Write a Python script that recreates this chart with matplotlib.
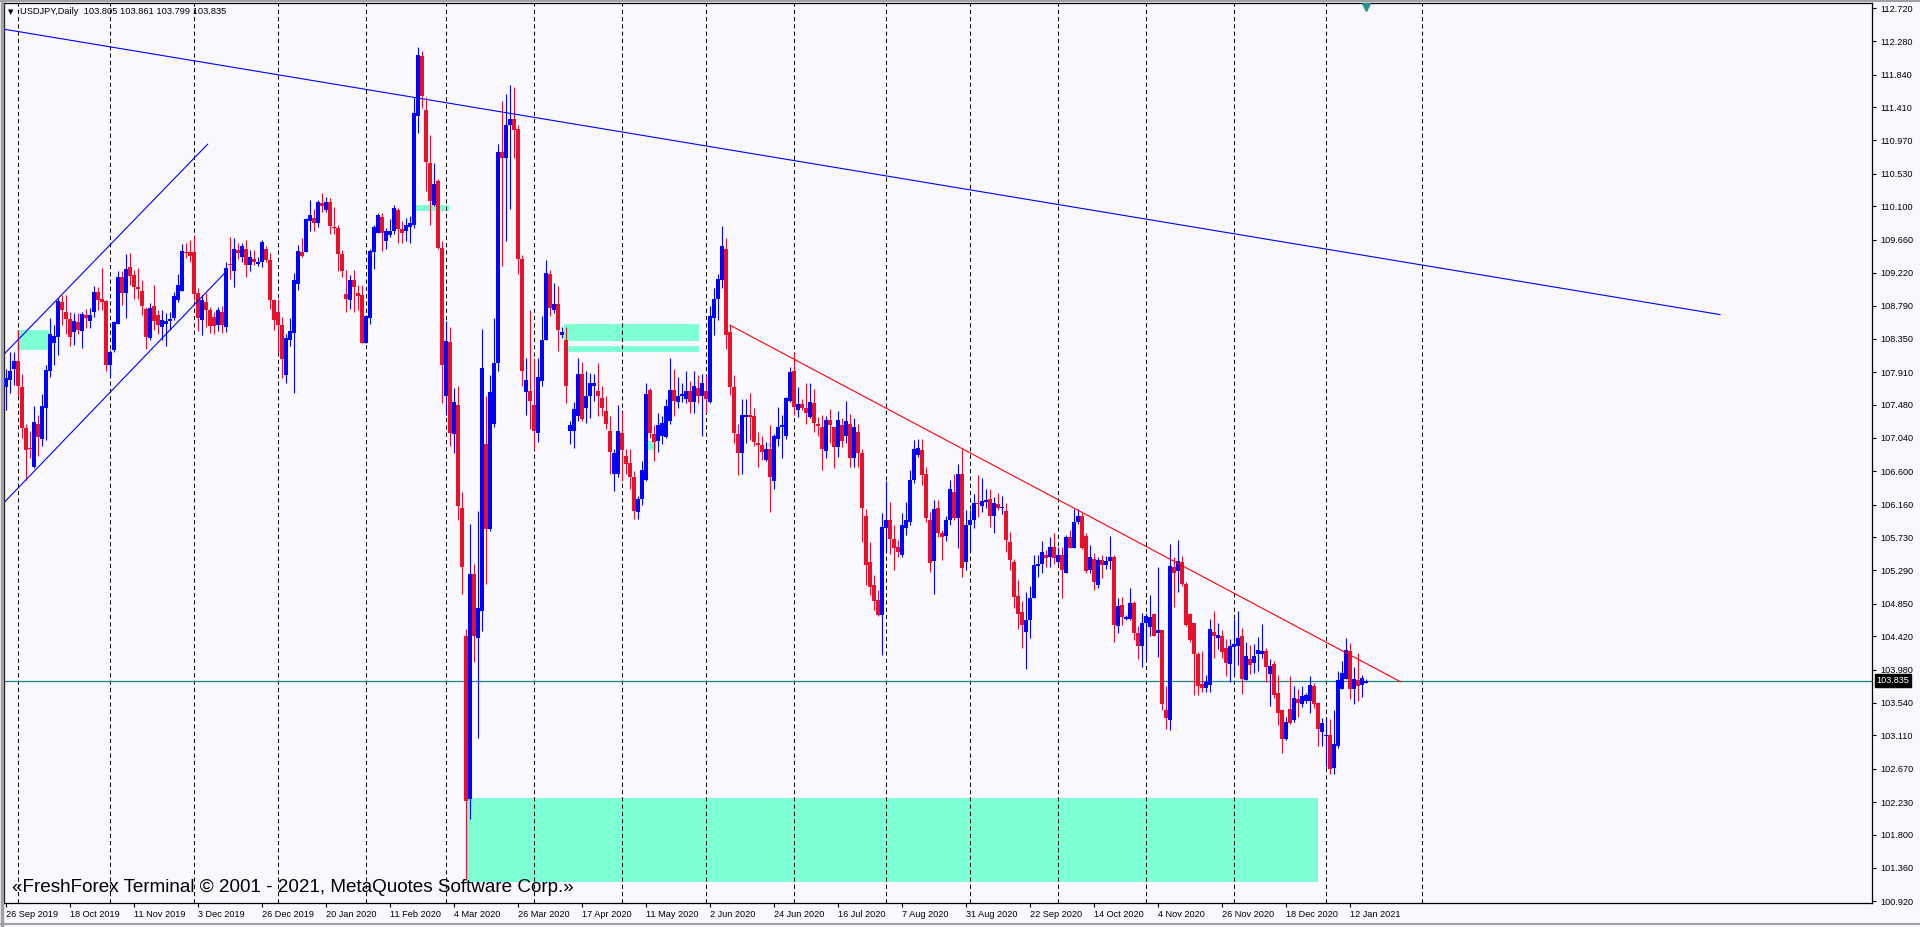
import numpy as np
import pandas as pd
import matplotlib
matplotlib.use('Agg')
import matplotlib.pyplot as plt
import matplotlib.transforms as mtransforms
from matplotlib.patches import Rectangle

# --- data (USDJPY daily) ---
symbol = 'USDJPY,Daily'
first_day = '2019-09-26'
last_day = '2021-01-18'
missing_days = ['2019-12-25', '2020-01-01', '2021-01-01']
extra_days = ['2020-11-01']  # sunday bar from the broker feed

open_ = [
    107.72, 107.80, 107.95, 108.06, 107.71, 107.17, 106.91, 106.66, 107.22, 107.03,
    107.44, 107.93, 108.30, 108.37, 108.84, 108.71, 108.61, 108.44, 108.57, 108.45,
    108.66, 108.59, 108.70, 108.97, 108.88, 108.85, 108.00, 108.20, 108.55, 109.16,
    108.95, 109.30, 109.19, 109.04, 108.98, 108.74, 108.36, 108.78, 108.66, 108.51,
    108.54, 108.59, 108.63, 108.86, 108.98, 109.50, 109.50, 109.50, 108.95, 108.60,
    108.83, 108.73, 108.64, 108.53, 108.71, 108.50, 109.34, 109.24, 109.52, 109.43,
    109.54, 109.33, 109.41, 109.34, 109.37, 109.53, 109.39, 108.86, 108.71, 108.53,
    107.87, 108.33, 108.43, 109.08, 109.50, 109.50, 109.90, 109.94, 109.88, 110.14,
    110.05, 110.16, 109.83, 109.81, 109.47, 108.94, 108.86, 109.13, 108.96, 108.93,
    108.30, 108.63, 109.50, 109.75, 109.96, 109.64, 109.72, 109.77, 110.05, 109.80,
    109.77, 109.83, 109.85, 111.29, 112.08, 111.37, 110.67, 110.12, 110.43, 109.55,
    107.60, 108.31, 107.09, 107.48, 106.11, 104.42, 102.27, 105.24, 104.40, 104.76,
    106.96, 105.84, 107.22, 108.03, 110.82, 110.74, 111.18, 111.26, 111.12, 109.40,
    107.65, 107.66, 107.48, 107.11, 107.79, 108.34, 109.20, 108.73, 108.81, 108.40,
    108.34, 107.13, 107.13, 107.33, 107.88, 107.44, 107.59, 107.73, 107.66, 107.57,
    107.40, 107.13, 106.56, 106.56, 107.11, 106.80, 106.71, 106.52, 106.06, 106.23,
    106.49, 107.68, 107.09, 107.00, 107.06, 107.05, 107.26, 107.68, 107.52, 107.59,
    107.55, 107.66, 107.51, 107.70, 107.59, 107.66, 107.51, 108.63, 108.87, 109.13,
    109.53, 108.44, 107.72, 107.09, 106.84, 107.32, 107.35, 107.33, 106.97, 106.95,
    106.75, 106.89, 106.47, 107.03, 107.19, 107.06, 107.53, 107.92, 107.41, 107.49,
    107.43, 107.32, 107.50, 107.23, 107.19, 106.87, 107.28, 107.18, 106.92, 107.21,
    107.06, 107.22, 106.77, 107.12, 106.84, 106.01, 105.40, 105.10, 104.90, 104.70,
    105.85, 105.95, 105.71, 105.60, 105.49, 105.85, 105.93, 106.48, 106.81, 106.88,
    106.56, 105.95, 105.42, 106.11, 105.78, 105.74, 105.96, 106.32, 105.98, 106.56,
    105.40, 105.89, 105.95, 106.18, 106.14, 106.20, 106.24, 106.01, 106.17, 106.12,
    106.07, 105.67, 105.40, 104.95, 104.74, 104.48, 104.63, 104.92, 105.35, 105.37,
    105.49, 105.47, 105.60, 105.40, 105.49, 105.25, 105.73, 105.58, 105.93, 106.01,
    105.74, 105.29, 105.44, 105.10, 105.43, 105.36, 105.41, 105.47, 104.56, 104.84,
    104.65, 104.65, 104.86, 104.46, 104.29, 104.59, 104.54, 104.72, 104.46, 104.50,
    103.45, 103.31, 105.34, 105.28, 105.40, 105.11, 104.72, 104.59, 104.19, 103.79,
    103.74, 103.78, 104.48, 104.40, 104.43, 104.27, 104.05, 104.28, 104.29, 104.43,
    103.84, 104.12, 104.07, 104.18, 104.18, 104.23, 103.92, 104.06, 103.67, 103.44,
    103.07, 103.46, 103.31, 103.59, 103.53, 103.57, 103.57, 103.76, 103.54, 103.16,
    103.10, 103.12, 102.68, 102.97, 103.73, 103.85, 104.23, 103.72, 103.84, 103.78,
    103.805,
]
high_ = [
    107.95, 108.18, 108.18, 108.47, 107.89, 107.23, 107.13, 107.46, 107.35, 107.62,
    108.00, 108.62, 108.53, 108.89, 108.93, 108.93, 108.71, 108.69, 108.69, 108.70,
    108.75, 108.76, 109.05, 109.04, 109.28, 108.86, 108.20, 108.59, 109.24, 109.24,
    109.47, 109.48, 109.26, 109.28, 109.13, 108.77, 108.82, 109.06, 108.73, 108.73,
    108.69, 108.70, 108.97, 109.20, 109.60, 109.61, 109.66, 109.72, 109.02, 108.93,
    108.95, 108.77, 108.70, 108.77, 108.78, 109.37, 109.69, 109.68, 109.62, 109.62,
    109.66, 109.52, 109.52, 109.43, 109.66, 109.57, 109.48, 108.88, 108.88, 108.64,
    108.42, 108.62, 109.22, 109.59, 109.68, 109.94, 110.19, 110.07, 110.19, 110.28,
    110.22, 110.21, 110.09, 109.85, 109.52, 109.26, 109.19, 109.26, 109.06, 109.06,
    108.66, 109.53, 109.86, 110.01, 110.01, 109.82, 109.93, 110.12, 110.08, 109.90,
    109.94, 109.97, 111.55, 112.21, 112.15, 111.55, 111.04, 110.67, 110.46, 109.64,
    108.58, 108.51, 107.70, 107.73, 106.33, 104.51, 105.90, 105.37, 106.08, 108.48,
    107.59, 107.87, 108.63, 110.93, 111.49, 111.59, 111.70, 111.67, 111.18, 109.46,
    108.10, 108.73, 108.09, 108.10, 108.65, 109.39, 109.26, 109.09, 109.05, 108.51,
    108.51, 107.26, 107.52, 108.09, 108.04, 107.92, 107.90, 107.88, 108.03, 107.73,
    107.59, 107.33, 106.89, 107.48, 107.38, 106.89, 106.89, 106.60, 106.27, 106.74,
    107.77, 107.70, 107.21, 107.37, 107.33, 107.55, 108.09, 107.95, 107.84, 107.77,
    107.92, 107.79, 107.92, 107.87, 107.88, 107.87, 108.78, 109.02, 109.20, 109.84,
    109.68, 108.53, 107.87, 107.22, 107.56, 107.56, 107.64, 107.43, 107.12, 107.06,
    106.99, 107.21, 107.09, 107.45, 107.34, 107.58, 107.98, 108.17, 107.72, 107.56,
    107.77, 107.77, 107.69, 107.32, 107.34, 107.33, 107.42, 107.19, 107.40, 107.30,
    107.53, 107.36, 107.30, 107.23, 106.89, 106.10, 105.67, 105.23, 105.03, 106.05,
    106.47, 106.20, 105.89, 105.69, 106.05, 106.20, 106.62, 107.01, 107.03, 107.03,
    106.65, 106.06, 106.22, 106.22, 105.82, 106.01, 106.49, 106.56, 106.69, 106.89,
    106.09, 106.09, 106.30, 106.55, 106.51, 106.37, 106.37, 106.26, 106.31, 106.27,
    106.18, 105.80, 105.44, 105.16, 104.88, 105.01, 105.08, 105.49, 105.49, 105.68,
    105.56, 105.73, 105.79, 105.60, 105.60, 105.76, 105.82, 106.10, 106.10, 106.05,
    105.79, 105.63, 105.52, 105.47, 105.50, 105.48, 105.75, 105.50, 104.92, 104.94,
    104.70, 105.06, 104.88, 104.55, 104.73, 104.73, 104.96, 104.73, 105.34, 104.50,
    103.77, 105.64, 105.47, 105.69, 105.48, 105.14, 104.73, 104.60, 104.21, 104.22,
    103.91, 104.65, 104.76, 104.60, 104.50, 104.38, 104.38, 104.65, 104.76, 104.53,
    104.35, 104.31, 104.32, 104.41, 104.58, 104.26, 104.12, 104.10, 103.91, 103.44,
    103.35, 103.90, 103.77, 103.72, 103.76, 103.67, 103.90, 103.80, 103.55, 103.34,
    103.34, 103.33, 103.45, 103.96, 104.10, 104.40, 104.33, 104.01, 104.20, 103.91,
    103.861,
]
low_ = [
    107.41, 107.64, 107.74, 107.61, 107.04, 106.49, 106.78, 106.64, 106.80, 106.93,
    107.01, 107.84, 108.00, 108.14, 108.53, 108.41, 108.25, 108.27, 108.41, 108.23,
    108.49, 108.49, 108.64, 108.73, 108.73, 107.92, 107.84, 108.18, 108.55, 108.80,
    108.62, 109.06, 108.88, 108.88, 108.67, 108.22, 108.33, 108.47, 108.41, 108.33,
    108.26, 108.47, 108.60, 108.84, 108.98, 109.42, 109.37, 108.86, 108.45, 108.40,
    108.50, 108.43, 108.41, 108.45, 108.43, 108.44, 109.14, 109.03, 109.41, 109.36,
    109.16, 109.24, 109.33, 109.31, 109.30, 109.37, 108.74, 108.47, 108.18, 107.83,
    107.76, 108.26, 107.64, 108.99, 109.43, 109.50, 109.77, 109.77, 109.83, 110.03,
    110.03, 109.74, 109.74, 109.25, 109.16, 108.71, 108.74, 108.71, 108.73, 108.29,
    108.29, 108.54, 109.27, 109.75, 109.51, 109.53, 109.70, 109.73, 109.61, 109.61,
    109.64, 109.61, 109.81, 111.07, 111.40, 110.30, 109.86, 110.10, 109.53, 107.50,
    107.35, 106.93, 106.84, 105.96, 104.98, 101.20, 102.01, 104.08, 103.08, 104.49,
    105.11, 105.81, 107.19, 107.92, 109.31, 109.64, 110.07, 110.74, 109.20, 107.73,
    107.35, 107.16, 106.89, 106.99, 107.73, 108.34, 108.65, 108.69, 108.19, 108.36,
    107.50, 106.96, 106.91, 107.26, 107.26, 107.24, 107.31, 107.53, 107.33, 107.33,
    107.16, 106.56, 106.34, 106.52, 106.47, 106.56, 106.36, 105.97, 105.97, 106.16,
    106.47, 107.04, 106.74, 106.85, 106.96, 107.04, 107.22, 107.33, 107.44, 107.51,
    107.50, 107.37, 107.37, 107.50, 107.07, 107.37, 107.50, 108.40, 108.60, 109.02,
    108.22, 107.61, 106.98, 106.55, 106.56, 106.97, 107.01, 106.93, 106.66, 106.75,
    106.73, 106.06, 106.37, 106.93, 106.77, 107.03, 107.52, 107.34, 107.32, 107.41,
    107.23, 107.30, 107.12, 107.06, 106.62, 106.77, 106.97, 106.64, 106.79, 106.92,
    106.97, 106.66, 106.65, 106.66, 105.67, 105.10, 104.96, 104.77, 104.69, 104.17,
    105.54, 105.51, 105.30, 105.47, 105.47, 105.76, 105.89, 106.44, 106.79, 106.42,
    105.93, 105.27, 104.98, 105.73, 105.43, 105.68, 105.89, 105.96, 105.59, 105.21,
    105.29, 105.54, 105.85, 105.99, 106.06, 106.11, 105.86, 105.78, 106.09, 106.04,
    105.54, 105.29, 104.79, 104.52, 104.27, 103.99, 104.40, 104.92, 105.20, 105.25,
    105.34, 105.34, 105.38, 105.38, 104.92, 105.25, 105.58, 105.58, 105.91, 105.57,
    105.25, 105.25, 105.03, 105.06, 105.19, 105.31, 105.31, 104.34, 104.47, 104.57,
    104.64, 104.64, 104.37, 104.12, 104.02, 104.12, 104.43, 104.43, 104.15, 103.45,
    103.19, 103.18, 104.81, 105.00, 105.08, 104.56, 104.35, 103.65, 103.65, 103.68,
    103.68, 103.68, 104.14, 104.25, 104.14, 103.90, 103.82, 103.89, 104.04, 103.66,
    103.84, 103.92, 103.94, 103.96, 104.14, 103.82, 103.50, 103.60, 103.25, 102.88,
    103.05, 103.26, 103.29, 103.35, 103.49, 103.54, 103.41, 103.47, 102.97, 102.97,
    102.69, 102.60, 102.60, 102.94, 103.72, 103.85, 103.59, 103.52, 103.56, 103.62,
    103.799,
]
close_ = [
    107.83, 107.92, 108.06, 107.73, 107.17, 106.88, 106.90, 107.25, 107.05, 107.46,
    107.94, 108.42, 108.39, 108.85, 108.73, 108.61, 108.37, 108.59, 108.46, 108.68,
    108.62, 108.66, 108.97, 108.86, 108.84, 108.00, 108.17, 108.57, 109.16, 108.96,
    109.27, 109.18, 109.03, 109.01, 108.79, 108.38, 108.76, 108.59, 108.53, 108.60,
    108.59, 108.61, 108.92, 109.06, 109.51, 109.48, 109.45, 108.94, 108.62, 108.86,
    108.73, 108.52, 108.52, 108.73, 108.53, 109.29, 109.33, 109.54, 109.48, 109.57,
    109.33, 109.43, 109.36, 109.37, 109.63, 109.39, 108.86, 108.60, 108.53, 108.08,
    108.36, 108.45, 109.13, 109.51, 109.45, 109.93, 109.99, 109.88, 110.16, 110.11,
    110.16, 109.84, 109.82, 109.47, 109.24, 108.87, 109.13, 109.04, 108.91, 108.30,
    108.65, 109.51, 109.83, 109.99, 109.75, 109.77, 109.77, 110.08, 109.80, 109.75,
    109.86, 109.88, 111.33, 112.10, 111.56, 110.68, 110.17, 110.40, 109.55, 108.01,
    108.32, 107.11, 107.51, 106.14, 105.33, 102.25, 105.24, 104.42, 104.80, 107.96,
    105.84, 107.65, 108.03, 110.82, 110.74, 111.18, 111.26, 111.11, 109.40, 107.92,
    107.81, 107.53, 107.13, 107.84, 108.34, 109.22, 108.76, 108.81, 108.47, 108.44,
    107.73, 107.21, 107.42, 107.88, 107.29, 107.60, 107.76, 107.76, 107.59, 107.44,
    107.22, 106.85, 106.84, 107.13, 106.88, 106.69, 106.52, 106.08, 106.23, 106.62,
    107.62, 107.11, 106.99, 107.21, 107.24, 107.46, 107.68, 107.53, 107.60, 107.62,
    107.66, 107.51, 107.73, 107.59, 107.77, 107.55, 108.65, 108.88, 109.14, 109.57,
    108.40, 107.72, 107.11, 106.84, 107.35, 107.35, 107.32, 106.99, 106.95, 106.86,
    106.89, 106.53, 107.06, 107.19, 107.21, 107.57, 107.91, 107.45, 107.49, 107.43,
    107.37, 107.52, 107.24, 107.20, 106.89, 107.28, 107.21, 106.92, 107.28, 107.00,
    107.27, 106.78, 107.19, 106.84, 106.11, 105.36, 105.07, 104.89, 104.70, 105.86,
    105.95, 105.71, 105.59, 105.54, 105.89, 105.96, 106.48, 106.89, 106.91, 106.55,
    105.98, 105.39, 106.10, 105.78, 105.73, 105.96, 106.37, 105.98, 106.56, 105.32,
    105.89, 105.95, 106.18, 106.17, 106.21, 106.22, 106.01, 106.18, 106.12, 106.13,
    105.69, 105.43, 104.94, 104.72, 104.57, 104.64, 104.92, 105.36, 105.38, 105.54,
    105.45, 105.60, 105.45, 105.49, 105.29, 105.73, 105.58, 105.93, 106.01, 105.58,
    105.28, 105.47, 105.14, 105.43, 105.36, 105.42, 105.47, 104.57, 104.82, 104.68,
    104.68, 104.86, 104.46, 104.29, 104.60, 104.69, 104.68, 104.43, 104.50, 103.52,
    103.34, 105.35, 105.25, 105.41, 105.11, 104.57, 104.37, 104.18, 103.77, 103.74,
    103.82, 104.51, 104.42, 104.44, 104.21, 104.07, 104.29, 104.32, 104.40, 103.85,
    104.16, 104.04, 104.16, 104.24, 104.22, 104.01, 104.03, 103.65, 103.41, 103.07,
    103.29, 103.27, 103.60, 103.54, 103.63, 103.65, 103.78, 103.53, 103.19, 103.28,
    103.11, 102.67, 103.00, 103.84, 103.93, 104.24, 103.72, 103.85, 103.77, 103.87,
    103.835,
]

price_ticks = [112.720, 112.280, 111.840, 111.410, 110.970, 110.530, 110.100,
               109.660, 109.220, 108.790, 108.350, 107.910, 107.480, 107.040,
               106.600, 106.160, 105.730, 105.290, 104.850, 104.420, 103.980,
               103.540, 103.110, 102.670, 102.230, 101.800, 101.360, 100.920]

# drawn objects: (bar index, price) anchors
trend_blue = [(-0.5, 112.44), (428.5, 108.67)]
channel_upper = [(-0.25, 108.16), (50.4, 110.92)]
channel_lower = [(-0.25, 106.20), (54.9, 109.23)]
trend_red = [(181, 108.53), (348.6, 103.82)]
hline_price = 103.835
# rectangles: x0, x1, price0, price1
zones = [
    (2.8, 10.8, 108.20, 108.47),
    (102.25, 110.75, 110.04, 110.12),
    (139.5, 173.2, 108.32, 108.54),
    (140.2, 173.2, 108.17, 108.26),
    (115.0, 328.0, 101.18, 102.28),
    (160.0, 162.6, 106.88, 107.00),
    (190.6, 191.4, 106.92, 106.97),
]

# --- build ---
dates = pd.bdate_range(first_day, last_day)
dates = dates.drop(pd.to_datetime(missing_days)).union(pd.to_datetime(extra_days))
o = np.array(open_); h = np.array(high_); l = np.array(low_); c = np.array(close_)
x = np.arange(len(c))

BG = '#F8F8FE'
BULL = '#0000FF'
BEAR = '#E8112D'
AQUA = '#7FFFD4'
plt.rcParams['font.family'] = ['Liberation Sans', 'DejaVu Sans']

fig = plt.figure(figsize=(19.2, 9.27), dpi=100, facecolor=BG)
W, H = 1920, 927
ax = fig.add_axes([4 / W, 1 - 903 / H, (1872 - 4) / W, (903 - 3) / H])
ax.set_facecolor(BG)
ax.set_xlim(-0.5, 466.5)
ax.set_ylim(112.72 - (903 - 8) / 75.7, 112.72 + 5 / 75.7)

for x0, x1, p0, p1 in zones:
    ax.add_patch(Rectangle((x0, p0), x1 - x0, p1 - p0, fc=AQUA, ec='none', zorder=1))

# month separators (first bar of every month, plus the next one in the shift area)
month = dates.to_period('M')
seps = list(np.where(month[1:] != month[:-1])[0] + 1)
next_month = (dates[-1] + pd.offsets.MonthBegin(1))
seps.append(x[-1] + (next_month - dates[-1]).days)
for s in seps:
    ax.axvline(s, color='black', lw=0.75, ls=(0, (4, 3)), zorder=2)

ax.axhline(hline_price, color='#1E8585', lw=0.9, zorder=2.5)

up = c >= o
cols = np.where(up, BULL, BEAR)
ax.vlines(x, l, h, colors=cols, lw=0.8, zorder=3)
ax.bar(x, np.maximum(np.abs(c - o), 0.013), bottom=np.minimum(o, c), width=0.78,
       color=cols, lw=0, zorder=4)

for line, col in [(trend_blue, '#0000FF'), (channel_upper, '#0000FF'),
                  (channel_lower, '#0000FF'), (trend_red, '#FF0000')]:
    (xa, ya), (xb, yb) = line
    ax.plot([xa, xb], [ya, yb], color=col, lw=0.8, zorder=5)

# axes styling
for sp in ax.spines.values():
    sp.set_color('black'); sp.set_linewidth(0.9)
ax.yaxis.tick_right()
ax.set_yticks(price_ticks)
ax.set_yticklabels([f'{p:.3f}' for p in price_ticks])
ax.tick_params(axis='y', length=3, width=0.8, pad=3, labelsize=6.6, colors='black')
lab_idx = x[::16]
ax.set_xticks(lab_idx)
ax.set_xticklabels([f'{d.day} {d:%b %Y}' for d in dates[::16]], ha='left')
ax.tick_params(axis='x', length=3, width=0.8, pad=2, labelsize=6.6, colors='black')

# current price box on the scale
tr = mtransforms.blended_transform_factory(ax.transAxes, ax.transData)
ax.text(1.0025, c[-1], f'{c[-1]:.3f}', transform=tr, ha='left', va='center',
        color='white', fontsize=6.6, zorder=10,
        bbox=dict(boxstyle='square,pad=0.2', fc='black', ec='black'))

# chart shift marker
tr2 = mtransforms.blended_transform_factory(ax.transData, ax.transAxes)
ax.plot([x[-1]], [0.996], marker='v', ms=6, color='#2F8F8F', transform=tr2,
        clip_on=False, zorder=10)

# header and watermark
fig.text(8 / W, 1 - 12 / H, '\u25BC', fontsize=5, va='center', family='DejaVu Sans')
fig.text(20 / W, 1 - 12 / H,
         f'{symbol}  {o[-1]:.3f} {h[-1]:.3f} {l[-1]:.3f} {c[-1]:.3f}',
         fontsize=6.7, va='center')
fig.text(12 / W, 1 - 887 / H,
         '\u00abFreshForex Terminal \u00a9 2001 - 2021, MetaQuotes Software Corp.\u00bb',
         fontsize=13.6, va='center', color='black')

# window border
fig.add_artist(plt.Line2D([0, 1], [1 - 924 / H] * 2, color='#A0A0A0', lw=1.5))
fig.add_artist(plt.Line2D([1.5 / W] * 2, [0, 1], color='#A0A0A0', lw=2.5))
fig.add_artist(plt.Line2D([0, 1], [1 - 1 / H] * 2, color='#A0A0A0', lw=1.5))

fig.savefig('out.png', dpi=100, facecolor=BG)
